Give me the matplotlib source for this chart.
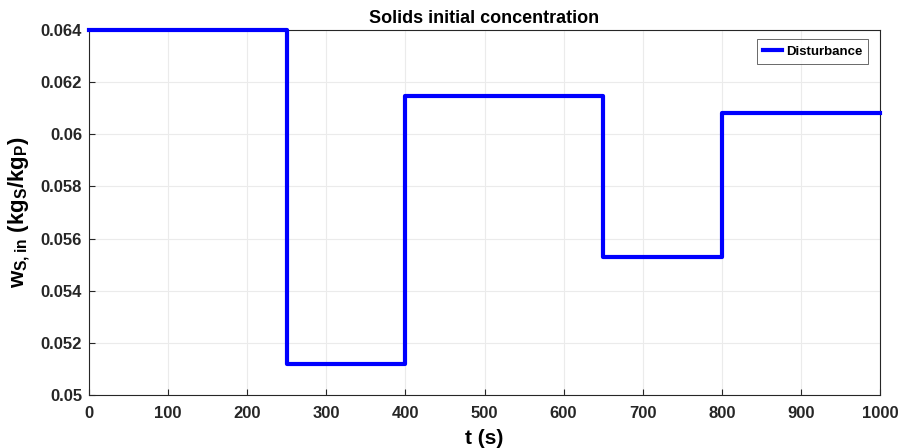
import matplotlib
matplotlib.use('Agg')
import matplotlib.pyplot as plt

# step disturbance: value holds from each switch time to the next
t_switch = [0, 250, 400, 650, 800, 1000]
w_in = [0.0640, 0.0512, 0.06145, 0.05530, 0.06083, 0.06083]

plt.rcParams['font.family'] = ['Liberation Sans', 'DejaVu Sans']
plt.rcParams['font.weight'] = 'bold'
plt.rcParams['mathtext.fontset'] = 'custom'
plt.rcParams['mathtext.rm'] = 'Liberation Sans:bold'
plt.rcParams['mathtext.bf'] = 'Liberation Sans:bold'
plt.rcParams['mathtext.it'] = 'Liberation Sans:bold'

fig = plt.figure(figsize=(8.98, 4.48), dpi=100)
ax = fig.add_axes([0.0991, 0.1183, 0.8809, 0.8147])

ax.step(t_switch, w_in, where='post', color='#0000ff', linewidth=3,
        label='Disturbance', clip_on=False, zorder=3)

ax.set_xlim(0, 1000)
ax.set_ylim(0.05, 0.064)
ax.set_xticks(range(0, 1001, 100))
ax.set_yticks([0.05, 0.052, 0.054, 0.056, 0.058, 0.06, 0.062, 0.064])
ax.set_yticklabels(['0.05', '0.052', '0.054', '0.056', '0.058', '0.06', '0.062', '0.064'])
ax.tick_params(labelsize=12, direction='in', length=4, color='#262626', labelcolor='#262626')
ax.tick_params(axis='x', pad=8)
ax.tick_params(axis='y', pad=5)
ax.grid(True, color='#ebebeb', linewidth=0.8)
for s in ax.spines.values():
    s.set_color('#262626')
    s.set_linewidth(0.8)

ax.set_title('Solids initial concentration', fontsize=13, fontweight='bold', pad=5)
ax.set_xlabel('t (s)', fontsize=15, fontweight='bold', labelpad=6)
ax.set_ylabel(r'$\mathrm{w_{S,in}}$ $\mathrm{(kg_S/kg_P)}$', fontsize=16, labelpad=6)

leg = ax.legend(loc='upper right', fontsize=9.5, frameon=True, fancybox=False,
                handlelength=1.4, handletextpad=0.3, borderpad=0.45,
                borderaxespad=0.3, bbox_to_anchor=(0.99, 0.985))
leg.get_frame().set_edgecolor('#262626')
leg.get_frame().set_linewidth(0.6)

fig.savefig('out.png', dpi=100)
